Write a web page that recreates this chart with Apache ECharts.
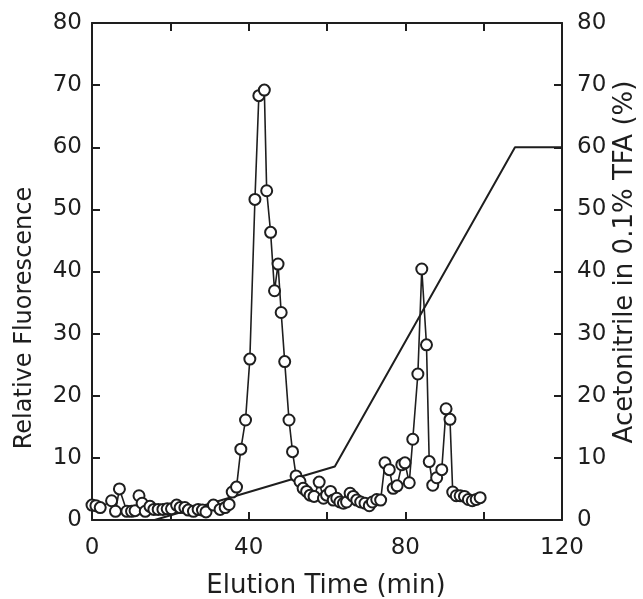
<!DOCTYPE html>
<html>
<head>
<meta charset="utf-8">
<script src="https://cdn.jsdelivr.net/npm/echarts@6/dist/echarts.min.js"></script>
<style>
html,body{margin:0;padding:0;background:#fff;}
#chart{width:643px;height:599px;}
</style>
</head>
<body>
<div id="chart"></div>
<script>
// Elution time (min) of each fraction
const timeMin = [0, 1, 2.1, 5, 6, 7, 8.9, 10.1, 11, 12, 12.8, 13.6, 14.8, 15.8, 16.9, 18.1, 19.2, 20.3, 21.6, 22.5, 23.7, 24.6, 25.9, 27.1, 28.2, 29.1, 31, 32.7, 34, 35, 35.8, 36.9, 38, 39.2, 40.3, 41.6, 42.6, 44, 44.6, 45.6, 46.6, 47.5, 48.3, 49.2, 50.3, 51.2, 52.1, 53.1, 53.9, 54.8, 55.7, 56.7, 58, 59.1, 59.9, 60.9, 61.6, 62.5, 63.3, 64.2, 65, 65.9, 66.7, 67.6, 68.6, 69.7, 70.8, 71.6, 72.7, 73.7, 74.8, 75.9, 76.9, 77.9, 79.1, 79.9, 81, 81.9, 83.2, 84.2, 85.4, 86.1, 87, 88, 89.3, 90.4, 91.4, 92.1, 93, 94, 95.1, 96.1, 97.1, 98.1, 99.1];
// Relative fluorescence of each fraction
const fluorescence = [2.4, 2.3, 2.0, 3.1, 1.4, 5.0, 1.4, 1.4, 1.5, 3.9, 2.7, 1.4, 2.2, 1.7, 1.7, 1.7, 1.8, 1.8, 2.4, 2.0, 2.0, 1.6, 1.4, 1.7, 1.6, 1.3, 2.4, 1.7, 2.0, 2.5, 4.5, 5.3, 11.4, 16.1, 25.9, 51.6, 68.3, 69.2, 53.0, 46.3, 36.9, 41.2, 33.4, 25.5, 16.1, 11.0, 7.1, 6.2, 5.1, 4.6, 4.0, 3.8, 6.1, 3.5, 4.0, 4.6, 3.2, 3.5, 2.9, 2.7, 2.9, 4.3, 3.8, 3.2, 2.9, 2.7, 2.3, 2.9, 3.3, 3.2, 9.2, 8.1, 5.1, 5.5, 8.9, 9.2, 6.0, 13.0, 23.5, 40.4, 28.2, 9.4, 5.6, 6.8, 8.1, 17.9, 16.2, 4.5, 3.9, 3.9, 3.8, 3.3, 3.1, 3.3, 3.6];
// Acetonitrile gradient (%) breakpoints
const gradientTime = [16, 62, 108, 120];
const gradientPct = [0, 8.6, 60, 60];
// Tick labels
const xTicks = [0, 40, 80, 120];
const yTicks = [0, 10, 20, 30, 40, 50, 60, 70, 80];

const fluoData = timeMin.map((t, i) => [t, fluorescence[i]]);
const gradData = gradientTime.map((t, i) => [t, gradientPct[i]]);

const FONT = 'DejaVu Sans';
const INK = '#1e1e1e';
const chart = echarts.init(document.getElementById('chart'), null, {renderer: 'canvas'});
const axisLine = {show: true, onZero: false, lineStyle: {color: INK, width: 2}};
const tick = {show: true, inside: true, length: 8, lineStyle: {color: INK, width: 2}};
const lbl = {color: INK, fontFamily: FONT, fontSize: 23};

chart.setOption({
  backgroundColor: '#fff',
  animation: false,
  grid: {left: 92, right: 81, top: 23, bottom: 79},
  xAxis: [
    {type: 'value', position: 'bottom', min: 0, max: 120, interval: 20,
     axisLine, axisTick: tick, splitLine: {show: false},
     axisLabel: Object.assign({margin: 17, formatter: v => xTicks.includes(v) ? String(v) : ''}, lbl)},
    {type: 'value', position: 'top', min: 0, max: 120, interval: 20,
     axisLine, axisTick: tick, splitLine: {show: false}, axisLabel: {show: false}}
  ],
  yAxis: [
    {type: 'value', position: 'left', min: 0, max: 80, interval: 10,
     axisLine, axisTick: tick, splitLine: {show: false},
     axisLabel: Object.assign({margin: 10, formatter: v => yTicks.includes(v) ? String(v) : ''}, lbl)},
    {type: 'value', position: 'right', min: 0, max: 80, interval: 10,
     axisLine, axisTick: tick, splitLine: {show: false},
     axisLabel: Object.assign({margin: 15, formatter: v => yTicks.includes(v) ? String(v) : ''}, lbl)}
  ],
  graphic: [
    {type: 'text', x: 326, y: 586, style: {text: 'Elution Time (min)', font: '26px "DejaVu Sans"', fill: INK, textAlign: 'center', textVerticalAlign: 'middle'}},
    {type: 'text', x: 25, y: 318, rotation: Math.PI / 2, style: {text: 'Relative Fluorescence', font: '24px "DejaVu Sans"', fill: INK, textAlign: 'center', textVerticalAlign: 'middle'}},
    {type: 'text', x: 625, y: 262, rotation: Math.PI / 2, style: {text: 'Acetonitrile in 0.1% TFA (%)', font: '26px "DejaVu Sans"', fill: INK, textAlign: 'center', textVerticalAlign: 'middle'}}
  ],
  series: [
    {type: 'line', name: 'Acetonitrile', xAxisIndex: 0, yAxisIndex: 1, data: gradData,
     showSymbol: false, symbol: 'none', lineStyle: {color: INK, width: 2}, z: 2},
    {type: 'line', name: 'Fluorescence', xAxisIndex: 0, yAxisIndex: 0, data: fluoData,
     symbol: 'circle', symbolSize: 11, showAllSymbol: true,
     lineStyle: {color: INK, width: 1.6},
     itemStyle: {color: '#fff', borderColor: INK, borderWidth: 2}, z: 3}
  ]
});
</script>
</body>
</html>
